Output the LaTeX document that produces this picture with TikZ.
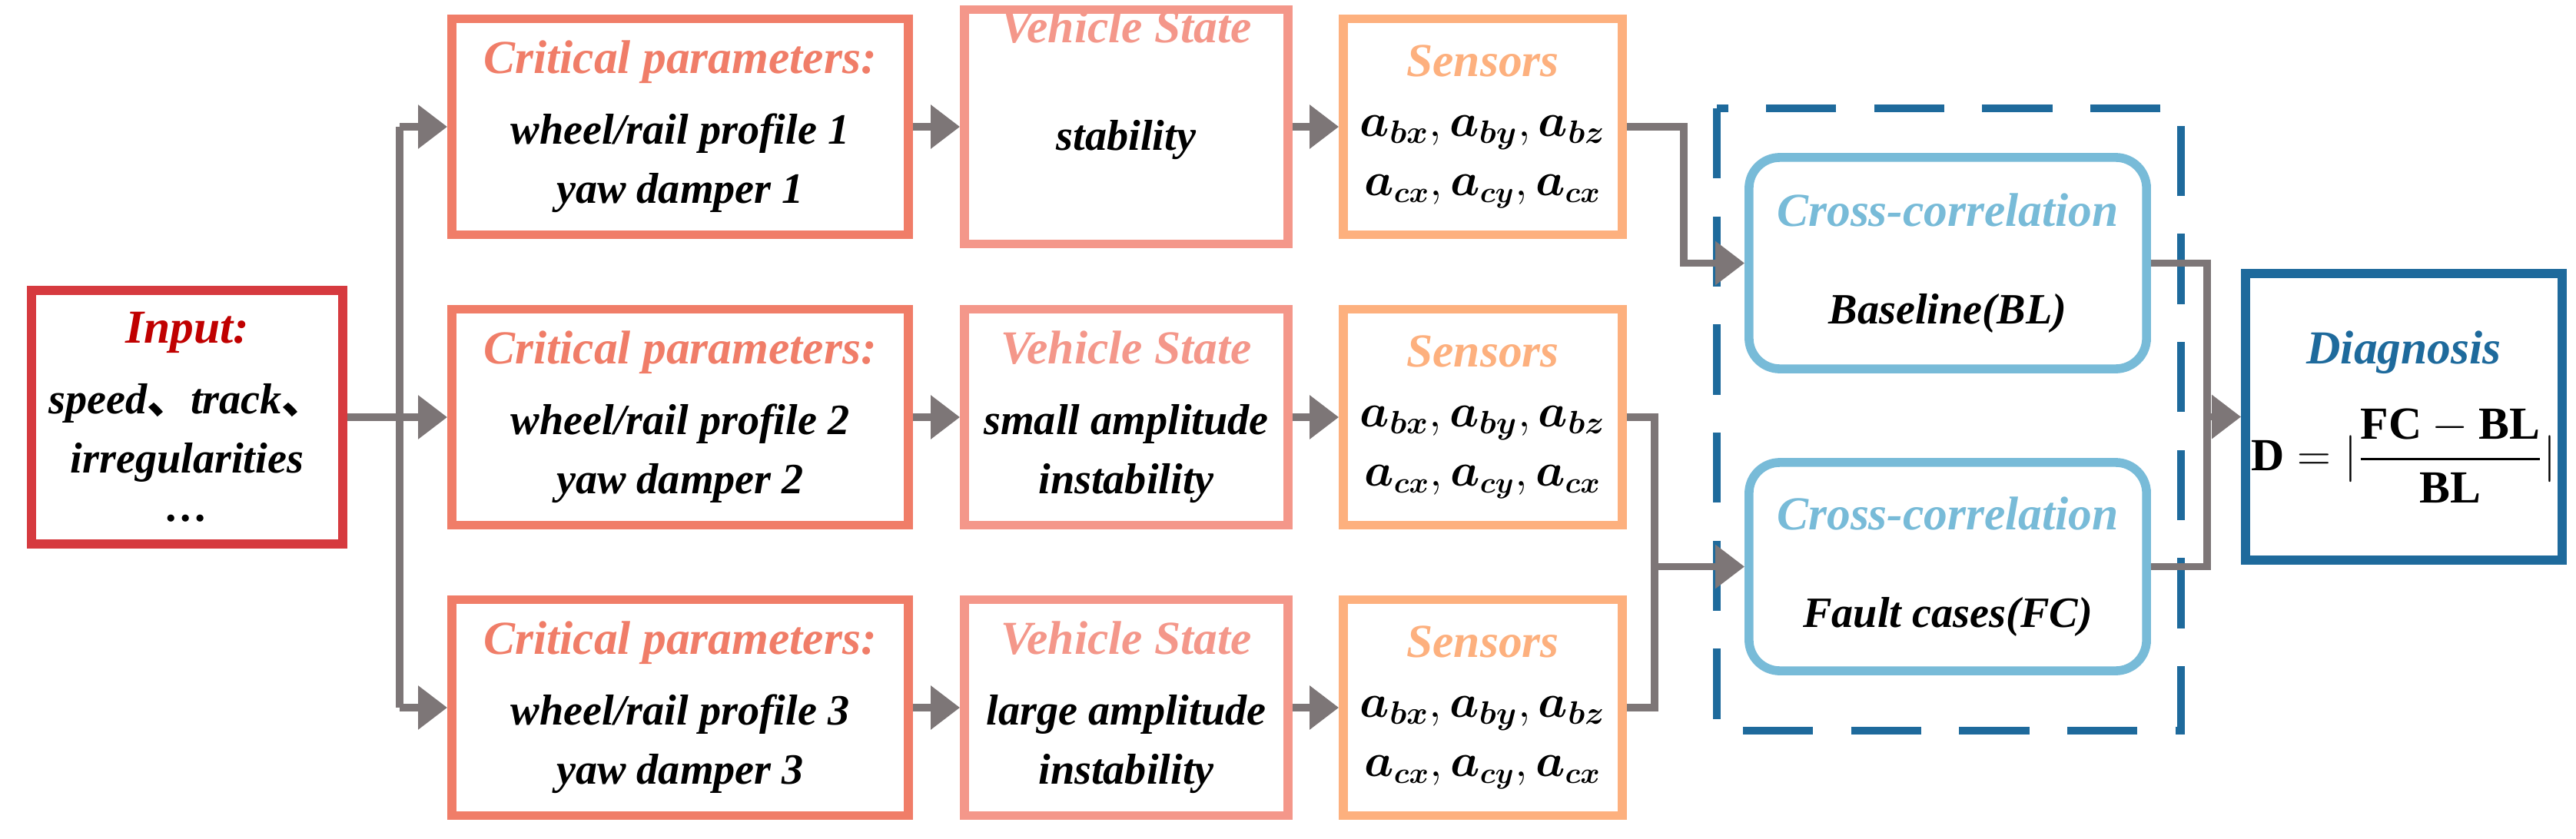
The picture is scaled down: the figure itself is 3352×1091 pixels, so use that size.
\documentclass[tikz,border=0pt]{standalone}
\usepackage{fontspec}
\setmainfont{Liberation Serif}
\newfontfamily\cjk{Noto Sans CJK SC}
\usepackage{amsmath,bm}
\usetikzlibrary{arrows.meta}
\definecolor{inred}{HTML}{D63A3F}
\definecolor{intitle}{HTML}{C00000}
\definecolor{crit}{HTML}{F07D68}
\definecolor{veh}{HTML}{F4978A}
\definecolor{sens}{HTML}{FDB07E}
\definecolor{ccb}{HTML}{78BBD8}
\definecolor{dblue}{HTML}{1E6A9C}
\definecolor{arr}{HTML}{7D7677}
\begin{document}
\begin{tikzpicture}[x=0.01cm,y=-0.01cm,
  box/.style={draw,line width=3.3pt,fill=white,inner sep=0pt,align=center,font=\fontsize{16}{22}\selectfont\bfseries\itshape},
  ar/.style={draw=arr,line width=2.8pt,-{Triangle[length=0.38cm,width=0.55cm]}},
  ln/.style={draw=arr,line width=2.8pt}]
\useasboundingbox (0,0) rectangle (3352,1091);
\newcommand{\ttl}[2]{\textcolor{#1}{\fontsize{17.5}{24}\selectfont #2}}
\newcommand{\sn}{$\bm{a_{bx}},\bm{a_{by}},\bm{a_{bz}}$\\$\bm{a_{cx}},\bm{a_{cy}},\bm{a_{cx}}$}
\newcommand{\dun}{{\upshape\cjk 、}}
% input
\node[box,draw=inred,minimum width=4.05cm,minimum height=3.3cm] (in) at (243.5,543)
 {\ttl{intitle}{Input:}\\[4pt]speed\dun track\dun\\irregularities\\[-4pt]\dots};
% critical
\foreach \i/\y in {1/165,2/543,3/921}{
 \node[box,draw=crit,minimum width=5.94cm,minimum height=2.81cm] (c\i) at (885,\y)
  {\ttl{crit}{Critical parameters:}\\[4pt]wheel/rail profile \i\\yaw damper \i};
 \node[box,draw=sens,minimum width=3.63cm,minimum height=2.81cm] (s\i) at (1929.5,\y)
  {\ttl{sens}{Sensors}\\[0pt]\fontsize{18}{26}\selectfont\sn};
}
\node[box,draw=veh,minimum width=4.21cm,minimum height=2.81cm] (v1) at (1465.5,165)
 {\ttl{veh}{Vehicle State}\\[18pt]stability\\[6pt]\strut};
\node[box,draw=veh,minimum width=4.21cm,minimum height=2.81cm] (v2) at (1465.5,543)
 {\ttl{veh}{Vehicle State}\\[4pt]small amplitude\\instability};
\node[box,draw=veh,minimum width=4.21cm,minimum height=2.81cm] (v3) at (1465.5,921)
 {\ttl{veh}{Vehicle State}\\[4pt]large amplitude\\instability};
% dashed group
\draw[dblue,line width=2.6pt,dash pattern=on 26pt off 14pt] (2234,141) rectangle (2838,951);
\node[box,draw=ccb,rounded corners=0.4cm,minimum width=5.17cm,minimum height=2.75cm] (cc1) at (2534.5,342.5)
 {\ttl{ccb}{Cross-correlation}\\[14pt]Baseline(BL)};
\node[box,draw=ccb,rounded corners=0.4cm,minimum width=5.17cm,minimum height=2.71cm] (cc2) at (2534.5,737.5)
 {\ttl{ccb}{Cross-correlation}\\[14pt]Fault cases(FC)};
\node[box,draw=dblue,minimum width=4.12cm,minimum height=3.73cm] (dg) at (3128,542.5)
 {\ttl{dblue}{Diagnosis}\\[12pt]\upshape\fontsize{17}{22}\selectfont$\displaystyle\mathbf{D}=|\frac{\mathbf{FC}-\mathbf{BL}}{\mathbf{BL}}|$};
% connectors
\coordinate (j1) at (520,165); \coordinate (j3) at (520,921); \coordinate (j2) at (520,543);
\draw[ln] (in.east) -- (j2);
\draw[ln] (j1) -- (j3);
\foreach \i in {1,2,3}{
 \draw[ar] (j\i) -- (c\i.west);
 \draw[ar] (c\i.east) -- (v\i.west);
 \draw[ar] (v\i.east) -- (s\i.west);
}
\draw[ar] (s1.east) -| (2191,342.5) -- (cc1.west);
\coordinate (k2) at (2153,543); \coordinate (k3) at (2153,921); \coordinate (km) at (2153,737.5);
\draw[ln] (s2.east) -- (k2) -- (k3) -- (s3.east);
\draw[ar] (km) -- (cc2.west);
\coordinate (o1) at (2872,342.5); \coordinate (o2) at (2872,737.5); \coordinate (om) at (2872,542.5);
\draw[ln] (cc1.east) -- (o1) -- (o2) -- (cc2.east);
\draw[ar] (om) -- (dg.west);
\end{tikzpicture}
\end{document}
